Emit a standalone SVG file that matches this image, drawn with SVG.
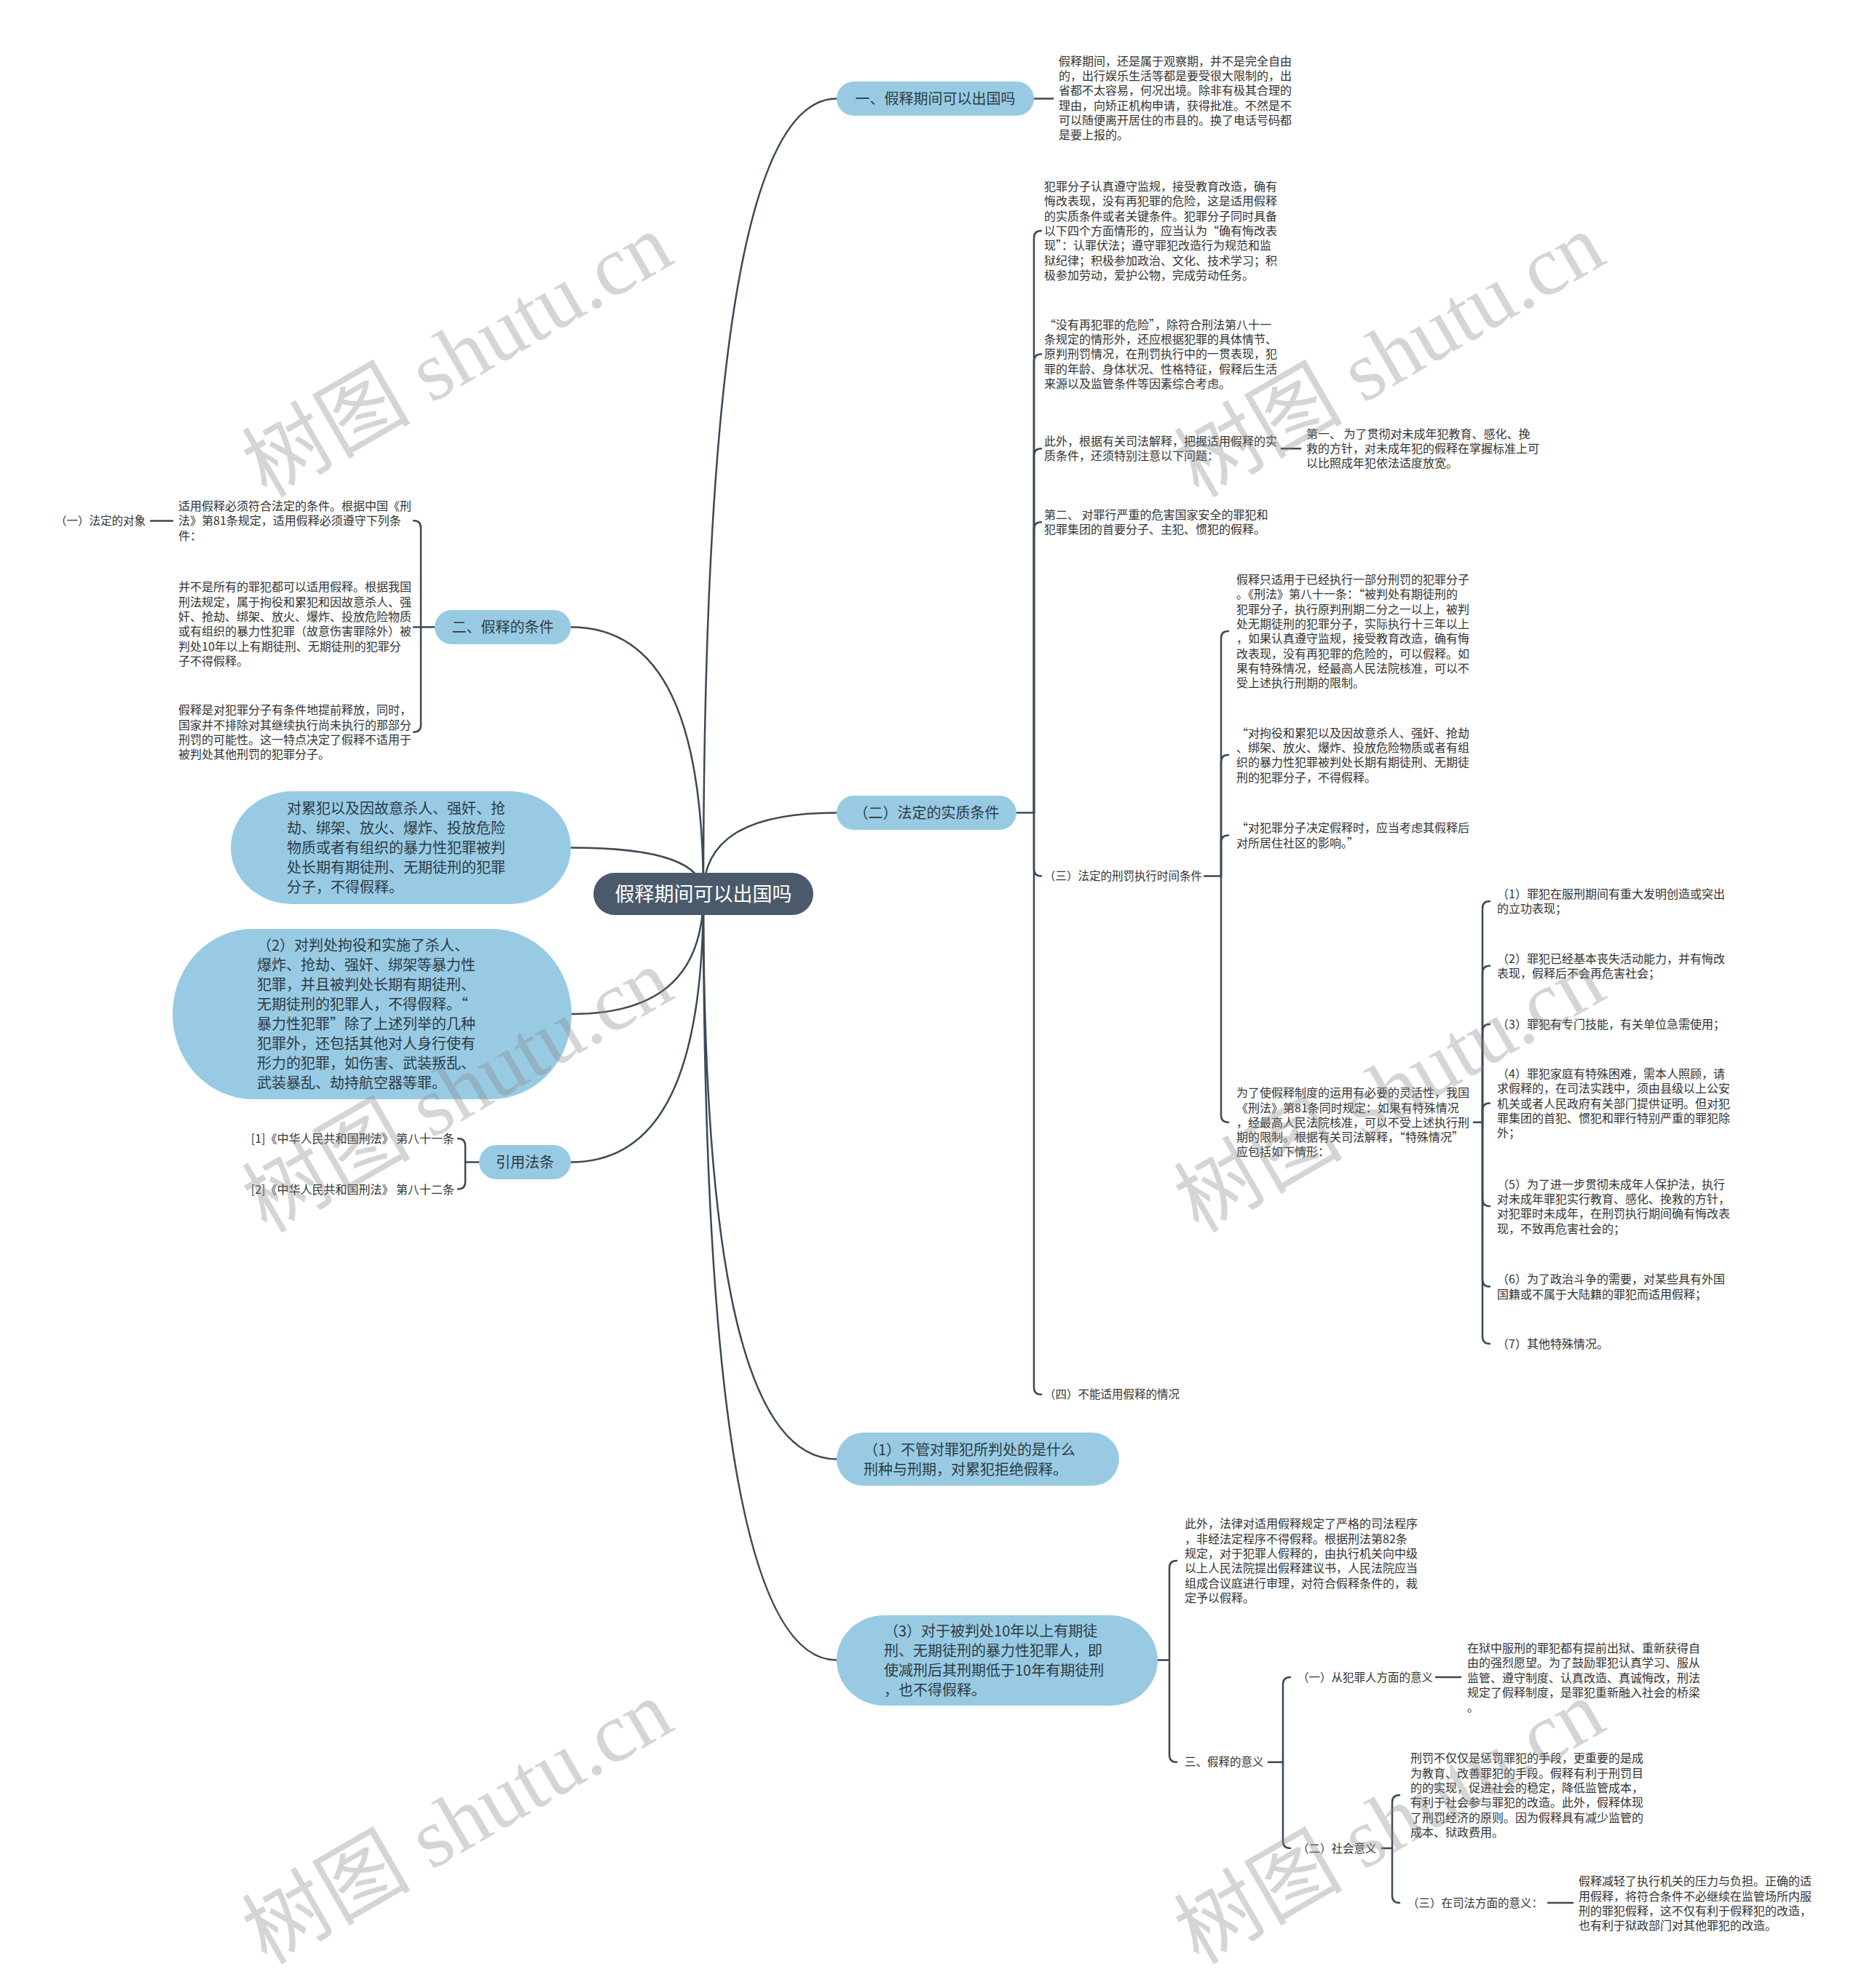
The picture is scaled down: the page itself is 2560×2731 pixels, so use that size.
<svg xmlns="http://www.w3.org/2000/svg" width="2560" height="2731" viewBox="0 0 2560 2731">
<style>
text{font-family:"Noto Sans CJK SC","Noto Sans",sans-serif;fill:#333}
.p{font-size:16px}
.l{font-size:15.5px}
.pt{font-size:20px;fill:#2e3a44}
.rt{font-size:27px;fill:#fff}
.pill{fill:#98CBE3}
.root{fill:#4A5A6A}
.c{fill:none;stroke:#3C4956;stroke-width:2.5;stroke-linecap:round}
.wm{font-size:116px;fill:#888;opacity:0.35}
</style>
<rect width="2560" height="2731" fill="#fff"/>
<g id="connectors">
<path class="c" d="M966,1228 C966,518 1021,135.5 1149,135.5"/>
<path class="c" d="M966,1228 C966,1155.5 1021,1116.5 1149,1116.5"/>
<path class="c" d="M966,1228 C966,1733 1021,2004.5 1149,2004.5"/>
<path class="c" d="M966,1228 C966,1912 1021,2280.5 1149,2280.5"/>
<path class="c" d="M966,1228 C966,990 911,861.5 784,861.5"/>
<path class="c" d="M966,1228 C966,1187 911,1164.5 784,1164.5"/>
<path class="c" d="M966,1228 C966,1335 911,1393 785,1393"/>
<path class="c" d="M966,1228 C966,1468 911,1596.5 784,1596.5"/>
<path class="c" d="M1420,135.5 H1446"/>
<path class="c" d="M1396,1116.5 H1420"/>
<path class="c" d="M1420,1116.5 V326.9 Q1420,316.9 1430,316.9"/>
<path class="c" d="M1420,1116.5 V496.4 Q1420,486.4 1430,486.4"/>
<path class="c" d="M1420,1116.5 V626.2 Q1420,616.2 1430,616.2"/>
<path class="c" d="M1420,1116.5 V727.2 Q1420,717.2 1430,717.2"/>
<path class="c" d="M1420,1116.5 V1193.4 Q1420,1203.4 1430,1203.4"/>
<path class="c" d="M1420,1116.5 V1905.7 Q1420,1915.7 1430,1915.7"/>
<path class="c" d="M1760,616.2 H1786"/>
<path class="c" d="M1654,1203.4 H1677"/>
<path class="c" d="M1677,1203.4 V877 Q1677,867 1687,867"/>
<path class="c" d="M1677,1203.4 V1047 Q1677,1037 1687,1037"/>
<path class="c" d="M1677,1203.4 V1157.4 Q1677,1147.4 1687,1147.4"/>
<path class="c" d="M1677,1203.4 V1531.8 Q1677,1541.8 1687,1541.8"/>
<path class="c" d="M2024,1541.8 H2036"/>
<path class="c" d="M2036,1541.8 V1248 Q2036,1238 2046,1238"/>
<path class="c" d="M2036,1541.8 V1336.8 Q2036,1326.8 2046,1326.8"/>
<path class="c" d="M2036,1541.8 V1417.1 Q2036,1407.1 2046,1407.1"/>
<path class="c" d="M2036,1541.8 V1525.6 Q2036,1515.6 2046,1515.6"/>
<path class="c" d="M2036,1541.8 V1647 Q2036,1657 2046,1657"/>
<path class="c" d="M2036,1541.8 V1757.4 Q2036,1767.4 2046,1767.4"/>
<path class="c" d="M2036,1541.8 V1836 Q2036,1846 2046,1846"/>
<path class="c" d="M1590,2280.5 H1606"/>
<path class="c" d="M1606,2280.5 V2154 Q1606,2144 1616,2144"/>
<path class="c" d="M1606,2280.5 V2410.7 Q1606,2420.7 1616,2420.7"/>
<path class="c" d="M1742,2420.7 H1762"/>
<path class="c" d="M1762,2420.7 V2314 Q1762,2304 1772,2304"/>
<path class="c" d="M1762,2420.7 V2529 Q1762,2539 1772,2539"/>
<path class="c" d="M1972,2304 H2006"/>
<path class="c" d="M1898,2539 H1912"/>
<path class="c" d="M1912,2539 V2476 Q1912,2466 1922,2466"/>
<path class="c" d="M1912,2539 V2604 Q1912,2614 1922,2614"/>
<path class="c" d="M2126,2614 H2160"/>
<path class="c" d="M597,861.5 H568"/>
<path class="c" d="M578,861.5 V725.2 Q578,715.2 568,715.2"/>
<path class="c" d="M578,861.5 V995.7 Q578,1005.7 568,1005.7"/>
<path class="c" d="M207,715.5 H237"/>
<path class="c" d="M658,1596.5 H639"/>
<path class="c" d="M639,1596.5 V1574 Q639,1564 629,1564"/>
<path class="c" d="M639,1596.5 V1623.5 Q639,1633.5 629,1633.5"/>
</g>

<g id="root">
<rect class="root" x="815" y="1199" width="302" height="58" rx="29"/>
<text class="rt" x="966" y="1238" text-anchor="middle">假释期间可以出国吗</text>
</g>

<g id="n1">
<rect class="pill" x="1149" y="112" width="271" height="47" rx="23.5"/>
<text class="pt" x="1284.5" y="143" text-anchor="middle">一、假释期间可以出国吗</text>
</g>
<g id="n1-text">
<text class="p" x="1454" y="89.6"><tspan x="1454">假释期间，还是属于观察期，并不是完全自由</tspan><tspan x="1454" dy="20.3">的，出行娱乐生活等都是要受很大限制的，出</tspan><tspan x="1454" dy="20.3">省都不太容易，何况出境。除非有极其合理的</tspan><tspan x="1454" dy="20.3">理由，向矫正机构申请，获得批准。不然是不</tspan><tspan x="1454" dy="20.3">可以随便离开居住的市县的。换了电话号码都</tspan><tspan x="1454" dy="20.3">是要上报的。</tspan></text>
</g>

<g id="n2">
<rect class="pill" x="1149" y="1093" width="247" height="47" rx="23.5"/>
<text class="pt" x="1272.5" y="1124" text-anchor="middle">（二）法定的实质条件</text>
</g>
<g id="n2-a">
<text class="p" x="1434" y="262"><tspan x="1434">犯罪分子认真遵守监规，接受教育改造，确有</tspan><tspan x="1434" dy="20.3">悔改表现，没有再犯罪的危险，这是适用假释</tspan><tspan x="1434" dy="20.3">的实质条件或者关键条件。犯罪分子同时具备</tspan><tspan x="1434" dy="20.3">以下四个方面情形的，应当认为“确有悔改表</tspan><tspan x="1434" dy="20.3">现”：认罪伏法；遵守罪犯改造行为规范和监</tspan><tspan x="1434" dy="20.3">狱纪律；积极参加政治、文化、技术学习；积</tspan><tspan x="1434" dy="20.3">极参加劳动，爱护公物，完成劳动任务。</tspan></text>
</g>
<g id="n2-b">
<text class="p" x="1434" y="451.8"><tspan x="1434">“没有再犯罪的危险”，除符合刑法第八十一</tspan><tspan x="1434" dy="20.3">条规定的情形外，还应根据犯罪的具体情节、</tspan><tspan x="1434" dy="20.3">原判刑罚情况，在刑罚执行中的一贯表现，犯</tspan><tspan x="1434" dy="20.3">罪的年龄、身体状况、性格特征，假释后生活</tspan><tspan x="1434" dy="20.3">来源以及监管条件等因素综合考虑。</tspan></text>
</g>
<g id="n2-c">
<text class="p" x="1434" y="612"><tspan x="1434">此外，根据有关司法解释，把握适用假释的实</tspan><tspan x="1434" dy="20.3">质条件，还须特别注意以下问题：</tspan></text>
</g>
<g id="n2-c1">
<text class="p" x="1794" y="601.6"><tspan x="1794">第一、 为了贯彻对未成年犯教育、感化、挽</tspan><tspan x="1794" dy="20.3">救的方针，对未成年犯的假释在掌握标准上可</tspan><tspan x="1794" dy="20.3">以比照成年犯依法适度放宽。</tspan></text>
</g>
<g id="n2-d">
<text class="p" x="1434" y="713"><tspan x="1434">第二、 对罪行严重的危害国家安全的罪犯和</tspan><tspan x="1434" dy="20.3">犯罪集团的首要分子、主犯、惯犯的假释。</tspan></text>
</g>
<g id="n2-e">
<text class="l" x="1434" y="1209">（三）法定的刑罚执行时间条件</text>
</g>
<g id="n2-e1">
<text class="p" x="1698" y="802"><tspan x="1698">假释只适用于已经执行一部分刑罚的犯罪分子</tspan><tspan x="1698" dy="20.3">。《刑法》第八十一条：“被判处有期徒刑的</tspan><tspan x="1698" dy="20.3">犯罪分子，执行原判刑期二分之一以上，被判</tspan><tspan x="1698" dy="20.3">处无期徒刑的犯罪分子，实际执行十三年以上</tspan><tspan x="1698" dy="20.3">，如果认真遵守监规，接受教育改造，确有悔</tspan><tspan x="1698" dy="20.3">改表现，没有再犯罪的危险的，可以假释。如</tspan><tspan x="1698" dy="20.3">果有特殊情况，经最高人民法院核准，可以不</tspan><tspan x="1698" dy="20.3">受上述执行刑期的限制。</tspan></text>
</g>
<g id="n2-e2">
<text class="p" x="1698" y="1012.6"><tspan x="1698">“对拘役和累犯以及因故意杀人、强奸、抢劫</tspan><tspan x="1698" dy="20.3">、绑架、放火、爆炸、投放危险物质或者有组</tspan><tspan x="1698" dy="20.3">织的暴力性犯罪被判处长期有期徒刑、无期徒</tspan><tspan x="1698" dy="20.3">刑的犯罪分子，不得假释。</tspan></text>
</g>
<g id="n2-e3">
<text class="p" x="1698" y="1143.2"><tspan x="1698">“对犯罪分子决定假释时，应当考虑其假释后</tspan><tspan x="1698" dy="20.3">对所居住社区的影响。”</tspan></text>
</g>
<g id="n2-e4">
<text class="p" x="1698" y="1507.2"><tspan x="1698">为了使假释制度的运用有必要的灵活性，我国</tspan><tspan x="1698" dy="20.3">《刑法》第81条同时规定：如果有特殊情况</tspan><tspan x="1698" dy="20.3">，经最高人民法院核准，可以不受上述执行刑</tspan><tspan x="1698" dy="20.3">期的限制。根据有关司法解释，“特殊情况”</tspan><tspan x="1698" dy="20.3">应包括如下情形：</tspan></text>
</g>
<g id="n2-e4-1">
<text class="p" x="2056" y="1233.8"><tspan x="2056">（1）罪犯在服刑期间有重大发明创造或突出</tspan><tspan x="2056" dy="20.3">的立功表现；</tspan></text>
</g>
<g id="n2-e4-2">
<text class="p" x="2056" y="1322.6"><tspan x="2056">（2）罪犯已经基本丧失活动能力，并有悔改</tspan><tspan x="2056" dy="20.3">表现，假释后不会再危害社会；</tspan></text>
</g>
<g id="n2-e4-3">
<text class="p" x="2056" y="1413">（3）罪犯有专门技能，有关单位急需使用；</text>
</g>
<g id="n2-e4-4">
<text class="p" x="2056" y="1481"><tspan x="2056">（4）罪犯家庭有特殊困难，需本人照顾，请</tspan><tspan x="2056" dy="20.3">求假释的，在司法实践中，须由县级以上公安</tspan><tspan x="2056" dy="20.3">机关或者人民政府有关部门提供证明。但对犯</tspan><tspan x="2056" dy="20.3">罪集团的首犯、惯犯和罪行特别严重的罪犯除</tspan><tspan x="2056" dy="20.3">外；</tspan></text>
</g>
<g id="n2-e4-5">
<text class="p" x="2056" y="1632.6"><tspan x="2056">（5）为了进一步贯彻未成年人保护法，执行</tspan><tspan x="2056" dy="20.3">对未成年罪犯实行教育、感化、挽救的方针，</tspan><tspan x="2056" dy="20.3">对犯罪时未成年，在刑罚执行期间确有悔改表</tspan><tspan x="2056" dy="20.3">现，不致再危害社会的；</tspan></text>
</g>
<g id="n2-e4-6">
<text class="p" x="2056" y="1763.2"><tspan x="2056">（6）为了政治斗争的需要，对某些具有外国</tspan><tspan x="2056" dy="20.3">国籍或不属于大陆籍的罪犯而适用假释；</tspan></text>
</g>
<g id="n2-e4-7">
<text class="p" x="2056" y="1852">（7）其他特殊情况。</text>
</g>
<g id="n2-f">
<text class="l" x="1434" y="1921">（四）不能适用假释的情况</text>
</g>

<g id="n3">
<rect class="pill" x="1149" y="1968" width="388" height="73" rx="36.5"/>
<text class="pt" x="1186" y="1998.5"><tspan x="1186">（1）不管对罪犯所判处的是什么</tspan><tspan x="1186" dy="27">刑种与刑期，对累犯拒绝假释。</tspan></text>
</g>

<g id="n4">
<rect class="pill" x="1149" y="2219" width="441" height="124" rx="65" ry="62"/>
<text class="pt" x="1214" y="2247.5"><tspan x="1214">（3）对于被判处10年以上有期徒</tspan><tspan x="1214" dy="27">刑、无期徒刑的暴力性犯罪人，即</tspan><tspan x="1214" dy="27">使减刑后其刑期低于10年有期徒刑</tspan><tspan x="1214" dy="27">，也不得假释。</tspan></text>
</g>
<g id="n4-a">
<text class="p" x="1627" y="2099.3"><tspan x="1627">此外，法律对适用假释规定了严格的司法程序</tspan><tspan x="1627" dy="20.3">，非经法定程序不得假释。根据刑法第82条</tspan><tspan x="1627" dy="20.3">规定，对于犯罪人假释的，由执行机关向中级</tspan><tspan x="1627" dy="20.3">以上人民法院提出假释建议书，人民法院应当</tspan><tspan x="1627" dy="20.3">组成合议庭进行审理，对符合假释条件的，裁</tspan><tspan x="1627" dy="20.3">定予以假释。</tspan></text>
</g>
<g id="n4-b">
<text class="l" x="1627" y="2426">三、假释的意义</text>
</g>
<g id="n4-b1">
<text class="l" x="1782" y="2309.5">（一）从犯罪人方面的意义</text>
</g>
<g id="n4-b1-t">
<text class="p" x="2015" y="2270"><tspan x="2015">在狱中服刑的罪犯都有提前出狱、重新获得自</tspan><tspan x="2015" dy="20.3">由的强烈愿望。为了鼓励罪犯认真学习、服从</tspan><tspan x="2015" dy="20.3">监管、遵守制度、认真改造、真诚悔改，刑法</tspan><tspan x="2015" dy="20.3">规定了假释制度，是罪犯重新融入社会的桥梁</tspan><tspan x="2015" dy="20.3">。</tspan></text>
</g>
<g id="n4-b2">
<text class="l" x="1782" y="2544.5">（二）社会意义</text>
</g>
<g id="n4-b2-t">
<text class="p" x="1937" y="2421.4"><tspan x="1937">刑罚不仅仅是惩罚罪犯的手段，更重要的是成</tspan><tspan x="1937" dy="20.3">为教育、改善罪犯的手段。假释有利于刑罚目</tspan><tspan x="1937" dy="20.3">的的实现，促进社会的稳定，降低监管成本，</tspan><tspan x="1937" dy="20.3">有利于社会参与罪犯的改造。此外，假释体现</tspan><tspan x="1937" dy="20.3">了刑罚经济的原则。因为假释具有减少监管的</tspan><tspan x="1937" dy="20.3">成本、狱政费用。</tspan></text>
</g>
<g id="n4-b3">
<text class="l" x="1933" y="2619.5">（三）在司法方面的意义：</text>
</g>
<g id="n4-b3-t">
<text class="p" x="2168" y="2590.4"><tspan x="2168">假释减轻了执行机关的压力与负担。正确的适</tspan><tspan x="2168" dy="20.3">用假释，将符合条件不必继续在监管场所内服</tspan><tspan x="2168" dy="20.3">刑的罪犯假释，这不仅有利于假释犯的改造，</tspan><tspan x="2168" dy="20.3">也有利于狱政部门对其他罪犯的改造。</tspan></text>
</g>

<g id="n5">
<rect class="pill" x="597" y="838" width="187" height="47" rx="23.5"/>
<text class="pt" x="690.5" y="869" text-anchor="middle">二、假释的条件</text>
</g>
<g id="n5-a">
<text class="p" x="245" y="700.9"><tspan x="245">适用假释必须符合法定的条件。根据中国《刑</tspan><tspan x="245" dy="20.3">法》第81条规定，适用假释必须遵守下列条</tspan><tspan x="245" dy="20.3">件：</tspan></text>
</g>
<g id="n5-a1">
<text class="l" x="76" y="721.3">（一）法定的对象</text>
</g>
<g id="n5-b">
<text class="p" x="245" y="812.3"><tspan x="245">并不是所有的罪犯都可以适用假释。根据我国</tspan><tspan x="245" dy="20.3">刑法规定，属于拘役和累犯和因故意杀人、强</tspan><tspan x="245" dy="20.3">奸、抢劫、绑架、放火、爆炸、投放危险物质</tspan><tspan x="245" dy="20.3">或有组织的暴力性犯罪（故意伤害罪除外）被</tspan><tspan x="245" dy="20.3">判处10年以上有期徒刑、无期徒刑的犯罪分</tspan><tspan x="245" dy="20.3">子不得假释。</tspan></text>
</g>
<g id="n5-c">
<text class="p" x="245" y="981.2"><tspan x="245">假释是对犯罪分子有条件地提前释放，同时，</tspan><tspan x="245" dy="20.3">国家并不排除对其继续执行尚未执行的那部分</tspan><tspan x="245" dy="20.3">刑罚的可能性。这一特点决定了假释不适用于</tspan><tspan x="245" dy="20.3">被判处其他刑罚的犯罪分子。</tspan></text>
</g>

<g id="n6">
<rect class="pill" x="317" y="1087" width="467" height="155" rx="85" ry="77"/>
<text class="pt" x="394" y="1118"><tspan x="394">对累犯以及因故意杀人、强奸、抢</tspan><tspan x="394" dy="27">劫、绑架、放火、爆炸、投放危险</tspan><tspan x="394" dy="27">物质或者有组织的暴力性犯罪被判</tspan><tspan x="394" dy="27">处长期有期徒刑、无期徒刑的犯罪</tspan><tspan x="394" dy="27">分子，不得假释。</tspan></text>
</g>

<g id="n7">
<rect class="pill" x="237" y="1276" width="548" height="234" rx="110" ry="117"/>
<text class="pt" x="353" y="1306"><tspan x="353">（2）对判处拘役和实施了杀人、</tspan><tspan x="353" dy="27">爆炸、抢劫、强奸、绑架等暴力性</tspan><tspan x="353" dy="27">犯罪，并且被判处长期有期徒刑、</tspan><tspan x="353" dy="27">无期徒刑的犯罪人，不得假释。“</tspan><tspan x="353" dy="27">暴力性犯罪”除了上述列举的几种</tspan><tspan x="353" dy="27">犯罪外，还包括其他对人身行使有</tspan><tspan x="353" dy="27">形力的犯罪，如伤害、武装叛乱、</tspan><tspan x="353" dy="27">武装暴乱、劫持航空器等罪。</tspan></text>
</g>

<g id="n8">
<rect class="pill" x="658" y="1573" width="126" height="47" rx="23.5"/>
<text class="pt" x="721" y="1604" text-anchor="middle">引用法条</text>
</g>
<g id="n8-a">
<text class="p" x="624" y="1570" text-anchor="end">[1]《中华人民共和国刑法》 第八十一条</text>
</g>
<g id="n8-b">
<text class="p" x="624" y="1639.5" text-anchor="end">[2]《中华人民共和国刑法》 第八十二条</text>
</g>

<g id="watermarks">
<text class="wm" transform="translate(366,685) rotate(-30)">树图<tspan font-family="Liberation Serif"> shutu.cn</tspan></text>
<text class="wm" transform="translate(1646,685) rotate(-30)">树图<tspan font-family="Liberation Serif"> shutu.cn</tspan></text>
<text class="wm" transform="translate(366,1695) rotate(-30)">树图<tspan font-family="Liberation Serif"> shutu.cn</tspan></text>
<text class="wm" transform="translate(1646,1695) rotate(-30)">树图<tspan font-family="Liberation Serif"> shutu.cn</tspan></text>
<text class="wm" transform="translate(366,2700) rotate(-30)">树图<tspan font-family="Liberation Serif"> shutu.cn</tspan></text>
<text class="wm" transform="translate(1646,2700) rotate(-30)">树图<tspan font-family="Liberation Serif"> shutu.cn</tspan></text>
</g>
</svg>
